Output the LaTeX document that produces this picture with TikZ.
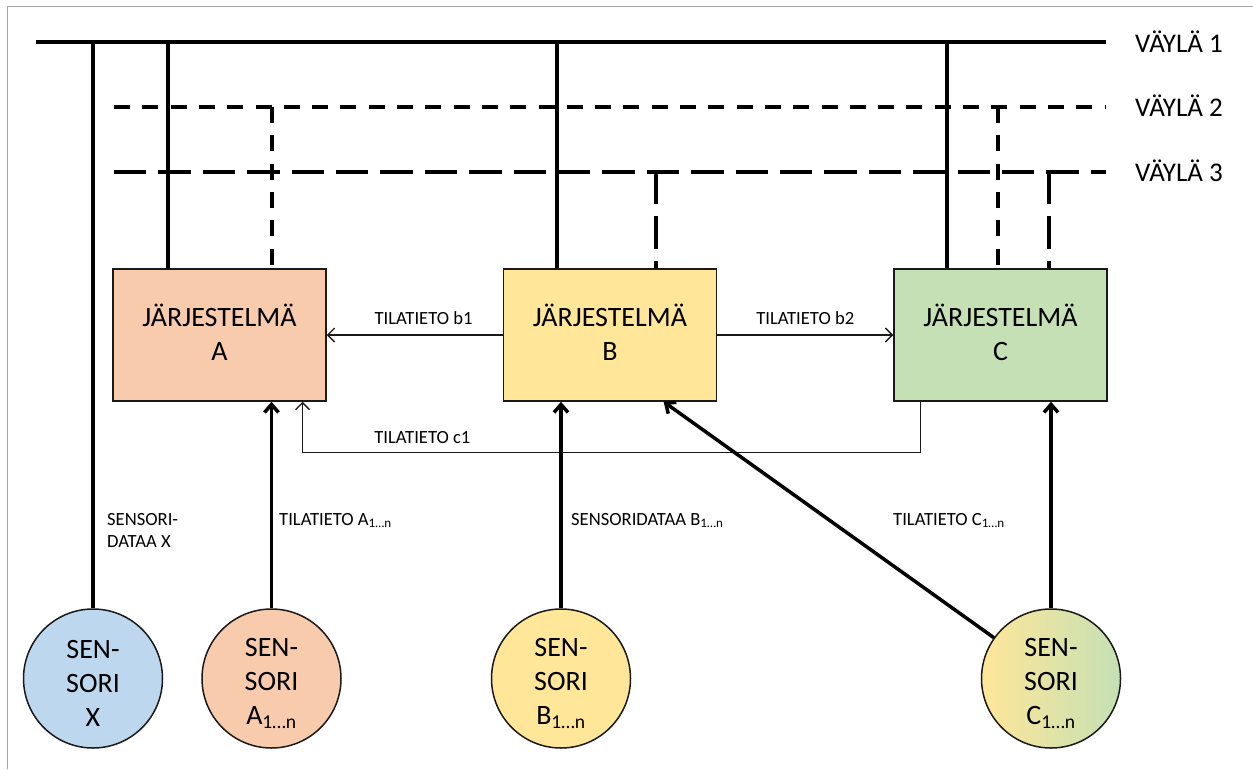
\documentclass[tikz,border=0pt]{standalone}
\usepackage{fontspec}
\setmainfont{Carlito}
\usetikzlibrary{arrows.meta,calc}
\definecolor{peach}{HTML}{F8CBAD}
\definecolor{sand}{HTML}{FFE699}
\definecolor{sage}{HTML}{C5E0B4}
\definecolor{sky}{HTML}{BDD7EE}
\definecolor{ink}{HTML}{1A1A1A}
% struts that nudge the multi-line node texts into place
\newcommand{\toppad}{\rule{0pt}{28pt}}
\newcommand{\botpad}{\rule[-6pt]{0pt}{6pt}}
\begin{document}
\begin{tikzpicture}[x=1pt,y=-1pt,
  sysbox/.style={draw=ink, line width=1.5pt, minimum width=213pt, minimum height=132pt,
    inner sep=0pt, align=center, font=\fontsize{28}{34}\selectfont},
  sensor/.style={circle, draw=ink, line width=1.5pt, minimum size=139pt, inner sep=0pt,
    align=center, font=\fontsize{28}{34}\selectfont},
  bus/.style={line width=3.5pt, draw=black},
  busshort/.style={bus, dash pattern=on 16pt off 12.3pt},
  buslong/.style={bus, dash pattern=on 32.3pt off 12.1pt},
  flow/.style={line width=1.3pt, draw=ink, -{Straight Barb[length=7pt,width=14pt]}},
  feed/.style={line width=3.5pt, draw=black, -{Straight Barb[length=8pt,width=14pt]}},
  lbl/.style={font=\fontsize{18.6}{22.6}\selectfont, inner sep=0pt},
  buslbl/.style={font=\fontsize{27}{33}\selectfont, inner sep=0pt, anchor=base west}]

\useasboundingbox (0,0) rectangle (1253,769);
\fill[white] (0,0) rectangle (1253,769);
% outer frame (left and top edges)
\draw[gray!70, line width=1pt] (7,769) -- (7,6.5) -- (1253,6.5);

% systems
\node[sysbox, fill=peach] (A) at (219.5,335) {JÄRJESTELMÄ\\A\botpad};
\node[sysbox, fill=sand]  (B) at (610,335)   {JÄRJESTELMÄ\\B\botpad};
\node[sysbox, fill=sage]  (C) at (1000.5,335){JÄRJESTELMÄ\\C\botpad};

% sensors
\node[sensor, fill=sky]   (SX) at (93,678.5)   {\toppad SEN-\\SORI\\X};
\node[sensor, fill=peach] (SA) at (271.5,678.5){\toppad SEN-\\SORI\\A\textsubscript{1…n}};
\node[sensor, fill=sand]  (SB) at (561,678.5)  {\toppad SEN-\\SORI\\B\textsubscript{1…n}};
\node[sensor, left color=sand, right color=sage, draw=ink] (SC) at (1051,678.5)
  {\toppad SEN-\\SORI\\C\textsubscript{1…n}};

% buses
\coordinate (b1w) at (36,42);   \coordinate (b1e) at (1106,42);
\coordinate (b2w) at (114,107); \coordinate (b2e) at (1106,107);
\coordinate (b3w) at (114,172); \coordinate (b3e) at (1106,172);
\draw[bus] (b1w) -- (b1e);
\draw[busshort] (b2w) -- (b2e);
\draw[buslong] (b3w) -- (b3e);
\node[buslbl] (L1) at (1135,52)  {VÄYLÄ 1};
\node[buslbl] (L2) at (1135,116) {VÄYLÄ 2};
\node[buslbl] (L3) at (1135,181) {VÄYLÄ 3};

% bus taps
\coordinate (tX)  at (93,42);
\coordinate (tA1) at (168,42);
\coordinate (tA2) at (272,107);
\coordinate (tB1) at (557,42);
\coordinate (tB3) at (656,172);
\coordinate (tC1) at (947,42);
\coordinate (tC2) at (998,107);
\coordinate (tC3) at (1049,172);
\draw[bus] (tX) -- (SX.north);
\draw[bus] (tA1) -- (tA1 |- A.north);
\draw[busshort] (tA2) -- (tA2 |- A.north);
\draw[bus] (tB1) -- (tB1 |- B.north);
\draw[buslong] (tB3) -- (tB3 |- B.north);
\draw[bus] (tC1) -- (tC1 |- C.north);
\draw[busshort] (tC2) -- (tC2 |- C.north);
\draw[buslong] (tC3) -- (tC3 |- C.north);

% status messages between systems
\draw[flow] (B.west) -- node[lbl, pos=0.45, anchor=base, yshift=11pt] {TILATIETO b1} (A.east);
\draw[flow] (B.east) -- node[lbl, anchor=base, yshift=11pt] {TILATIETO b2} (C.west);
\coordinate (Cout) at ($(C.south west)!0.127!(C.south east)$);
\coordinate (Ain)  at ($(A.south west)!0.887!(A.south east)$);
\draw[flow] (Cout) -- ++(0,51) coordinate (c1turn)
  -- node[lbl, pos=0.806, anchor=base, yshift=9pt] {TILATIETO c1} (c1turn -| Ain) -- (Ain);

% sensor feeds
\coordinate (Bin) at ($(B.south west)!0.75!(B.south east)$);
\draw[feed] (SA.north) -- (SA.north |- A.south);
\draw[feed] (SB.north) -- (SB.north |- B.south);
\draw[feed] (SC.north) -- (SC.north |- C.south);
\draw[feed] (SC) -- (Bin);

% feed labels
\node[lbl, anchor=north west, align=left] (nX) at (107,513) {SENSORI-\\DATAA X};
\node[lbl, anchor=base west] (nA) at (279,525) {TILATIETO A\textsubscript{1…n}};
\node[lbl, anchor=base west] (nB) at (571,525) {SENSORIDATAA B\textsubscript{1…n}};
\node[lbl, anchor=base west] (nC) at (893,525) {TILATIETO C\textsubscript{1…n}};
\end{tikzpicture}
\end{document}
